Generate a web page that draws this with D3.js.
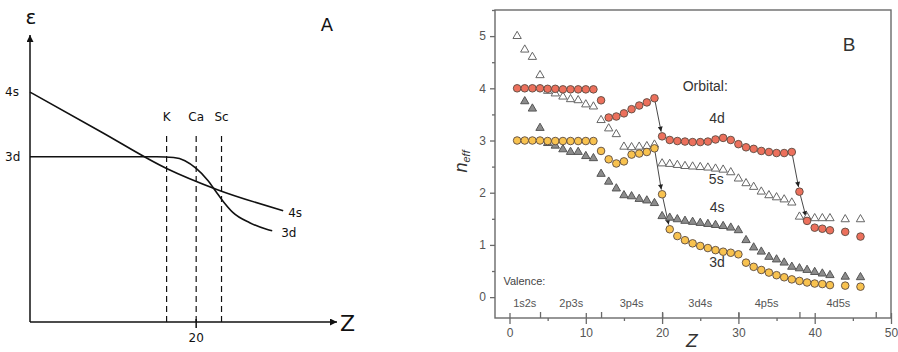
<!DOCTYPE html>
<html>
<head>
<meta charset="utf-8">
<script src="https://cdn.jsdelivr.net/npm/d3@7"></script>
<style>
  body { margin: 0; background: #fff; }
  svg { display: block; }
</style>
</head>
<body>
<div id="chart"></div>
<script>
// ---------- panel A (schematic) ----------
const aZ4s = [14.1, 16.6, 18.95, 20.73, 23.09];
const aE4s = [8.01, 6.64, 5.35, 4.62, 3.88];
const aZ3d = [14.1, 16.5, 18.6, 19.2, 19.6, 20.0, 20.4, 20.7, 20.96, 21.3, 21.9, 22.5, 22.7];
const aE3d = [5.76, 5.76, 5.76, 5.73, 5.62, 5.35, 4.95, 4.55, 4.2, 3.82, 3.46, 3.23, 3.18];
const aElements = ['K', 'Ca', 'Sc'];
const aElementZ = [18.95, 20, 20.9];

// ---------- panel B (n_eff) ----------
const zValues = [1, 2, 3, 4, 5, 6, 7, 8, 9, 10, 11, 12, 13, 14, 15, 16, 17, 18, 19, 20,
  21, 22, 23, 24, 25, 26, 27, 28, 29, 30, 31, 32, 33, 34, 35, 36, 37, 38, 39, 40, 41, 42, 44, 46];
const red4d = [4.00, 4.00, 4.00, 4.00, 3.99, 3.99, 3.98, 3.98, 3.98, 3.98, 3.98, 3.77,
  3.44, 3.46, 3.52, 3.60, 3.67, 3.73, 3.81,
  3.08, 3.01, 2.99, 2.98, 2.97, 2.97, 2.98, 3.02, 3.05, 3.01, 2.93, 2.87, 2.84, 2.80, 2.78, 2.76, 2.76, 2.78,
  2.02, 1.46, 1.33, 1.31, 1.28, 1.25, 1.16];
const yellow3d = [3.00, 3.00, 3.00, 3.00, 2.99, 2.99, 2.99, 2.99, 2.99, 2.99, 2.99, 2.80,
  2.64, 2.56, 2.60, 2.73, 2.75, 2.78, 2.85,
  1.97, 1.30, 1.17, 1.09, 1.03, 0.98, 0.94, 0.90, 0.87, 0.85, 0.82,
  0.66, 0.58, 0.52, 0.47, 0.42, 0.38, 0.34, 0.31, 0.28, 0.26, 0.25, 0.23, 0.22, 0.20];
const white5s = [5.00, 4.74, 4.60, 4.25, 3.95, 3.90, 3.84, 3.79, 3.77, 3.69, 3.65, 3.39,
  3.23, 3.12, 2.88, 2.87, 2.88, 2.89, 2.92,
  2.56, 2.55, 2.53, 2.51, 2.50, 2.49, 2.48, 2.46, 2.44, 2.39, 2.27,
  2.18, 2.11, 2.02, 1.95, 1.91, 1.87, 1.81, 1.54, 1.53, 1.51, 1.51, 1.51, 1.49, 1.49];
const gray4s = [null, 3.75, 3.61, 3.24, 2.95, 2.90, 2.83, 2.78, 2.78, 2.70, 2.66, 2.36,
  2.21, 2.08, 1.95, 1.93, 1.88, 1.85, 1.80,
  1.55, 1.52, 1.49, 1.46, 1.44, 1.42, 1.40, 1.38, 1.36, 1.33, 1.28,
  1.09, 0.95, 0.87, 0.77, 0.72, 0.66, 0.58, 0.55, 0.52, 0.48, 0.45, 0.42, 0.39, 0.38];

const yTicksB = [0, 1, 2, 3, 4, 5];
const xTicksB = [0, 10, 20, 30, 40, 50];
const xMinorB = [5, 15, 25, 35, 45];
const valenceBounds = [4, 12, 20, 30, 38, 48];
const valenceLabels = ['1s2s', '2p3s', '3p4s', '3d4s', '4p5s', '4d5s'];
const valenceZ = [2, 8.1, 16, 25, 33.7, 43.1];
const orbitalLabels = ['4d', '5s', '4s', '3d'];
const orbitalLabelPos = [[27.2, 3.33], [27.1, 2.16], [27.2, 1.64], [27.2, 0.58]];
// arrows: [series, fromZ, toZ]
const jumps = [['red', 19, 20], ['red', 37, 38], ['red', 38, 39], ['yellow', 19, 20], ['yellow', 20, 21]];

const W = 898, H = 352;
const svg = d3.select('#chart').append('svg').attr('width', W).attr('height', H);
const defs = svg.append('defs');

function arrowMarker(id, w, h, color) {
  defs.append('marker')
    .attr('id', id)
    .attr('viewBox', '0 0 10 10')
    .attr('refX', 10).attr('refY', 5)
    .attr('markerUnits', 'userSpaceOnUse')
    .attr('markerWidth', w).attr('markerHeight', h)
    .attr('orient', 'auto')
    .append('path')
    .attr('d', 'M0,0 L10,5 L0,10 Z')
    .attr('fill', color);
}
arrowMarker('axisArrow', 12, 7, '#111');
arrowMarker('jumpArrow', 6, 5, '#222');

// ================= Panel A =================
const xA = d3.scaleLinear().domain([14.1, 25]).range([30, 337]);
const yA = d3.scaleLinear().domain([0, 10]).range([322, 35]);
const gA = svg.append('g').attr('font-family', 'DejaVu Sans, sans-serif').attr('fill', '#111');

gA.append('line')
  .attr('x1', xA(14.1)).attr('y1', yA(0)).attr('x2', xA(14.1)).attr('y2', yA(10))
  .attr('stroke', '#111').attr('stroke-width', 1.5).attr('marker-end', 'url(#axisArrow)');
gA.append('line')
  .attr('x1', xA(14.1)).attr('y1', yA(0)).attr('x2', xA(25)).attr('y2', yA(0))
  .attr('stroke', '#111').attr('stroke-width', 1.5).attr('marker-end', 'url(#axisArrow)');

// tick at 20
gA.append('line')
  .attr('x1', xA(20)).attr('x2', xA(20)).attr('y1', yA(0) - 3).attr('y2', yA(0) + 6)
  .attr('stroke', '#111').attr('stroke-width', 1.5);
gA.append('text').attr('x', xA(20)).attr('y', yA(0) + 20)
  .attr('text-anchor', 'middle').attr('font-size', 12).text('20');

// dashed element lines
aElementZ.forEach((z, i) => {
  gA.append('line')
    .attr('x1', xA(z)).attr('x2', xA(z)).attr('y1', yA(0)).attr('y2', yA(6.62))
    .attr('stroke', '#111').attr('stroke-width', 1.2).attr('stroke-dasharray', '6,4');
  gA.append('text').attr('x', xA(z)).attr('y', yA(7.0))
    .attr('text-anchor', 'middle').attr('font-size', 12).text(aElements[i]);
});

const lineA = d3.line().curve(d3.curveMonotoneX).x((d) => xA(d[0])).y((d) => yA(d[1]));
const pts4s = aZ4s.map((z, i) => [z, aE4s[i]]);
const pts3d = aZ3d.map((z, i) => [z, aE3d[i]]);
gA.append('path').attr('d', lineA(pts4s))
  .attr('fill', 'none').attr('stroke', '#111').attr('stroke-width', 1.6);
gA.append('path').attr('d', lineA(pts3d))
  .attr('fill', 'none').attr('stroke', '#111').attr('stroke-width', 1.6);

gA.append('text').attr('x', 5).attr('y', yA(aE4s[0]) + 4).attr('font-size', 12).text('4s');
gA.append('text').attr('x', 5).attr('y', yA(aE3d[0]) + 4).attr('font-size', 12).text('3d');
gA.append('text').attr('x', xA(23.09) + 5).attr('y', yA(3.88) + 6).attr('font-size', 12).text('4s');
gA.append('text').attr('x', xA(22.7) + 9).attr('y', yA(3.18) + 6).attr('font-size', 12).text('3d');
gA.append('text').attr('x', 31).attr('y', 24).attr('text-anchor', 'middle').attr('font-size', 20).text('ε');
gA.append('text').attr('x', 327).attr('y', 31).attr('text-anchor', 'middle').attr('font-size', 18).text('A');
gA.append('text').attr('x', 340).attr('y', 331).attr('font-size', 22).text('Z');

// ================= Panel B =================
const x = d3.scaleLinear().domain([-1.9, 50]).range([495, 891]);
const y = d3.scaleLinear().domain([-0.4, 5.5]).range([318, 10]);
const gB = svg.append('g').attr('font-family', 'Liberation Sans, Arial, sans-serif');
const axisColor = '#6a6a6a';

function styleAxis(g) {
  g.select('.domain').remove();
  g.selectAll('line').attr('stroke', axisColor).attr('stroke-width', 1.3);
  g.selectAll('text').attr('fill', '#555').attr('font-size', 12);
}

gB.append('g').attr('transform', `translate(${x.range()[0]},0)`)
  .call(d3.axisLeft(y).tickValues(yTicksB).tickSize(5).tickPadding(4).tickFormat(d3.format('d')))
  .call(styleAxis);
gB.append('g').attr('transform', `translate(${x.range()[0]},0)`)
  .call(d3.axisLeft(y).tickValues(yTicksB.map((v) => v + 0.5)).tickSize(3).tickFormat(''))
  .call(styleAxis);

const yBase = y.range()[0];
gB.append('g').attr('transform', `translate(0,${yBase})`)
  .call(d3.axisBottom(x).tickValues(xTicksB).tickSize(6).tickPadding(4).tickFormat(d3.format('d')))
  .call(styleAxis);
gB.append('g').attr('transform', `translate(0,${yBase})`)
  .call(d3.axisTop(x).tickValues(xTicksB).tickSize(5).tickFormat(''))
  .call(styleAxis);
gB.append('g').attr('transform', `translate(0,${yBase})`)
  .call(d3.axisBottom(x).tickValues(xMinorB).tickSize(3).tickFormat(''))
  .call(styleAxis);
gB.append('g').attr('transform', `translate(0,${yBase})`)
  .call(d3.axisTop(x).tickValues(valenceBounds).tickSize(6).tickFormat(''))
  .call(styleAxis);

// frame
gB.append('rect')
  .attr('x', x.range()[0]).attr('y', y.range()[1])
  .attr('width', x.range()[1] - x.range()[0]).attr('height', y.range()[0] - y.range()[1])
  .attr('fill', 'none').attr('stroke', axisColor).attr('stroke-width', 1.4);

// valence labels
gB.append('text').attr('x', x(-0.8)).attr('y', y(0.24)).attr('font-size', 11).attr('fill', '#444').text('Valence:');
valenceLabels.forEach((t, i) => {
  gB.append('text').attr('x', x(valenceZ[i])).attr('y', y(-0.18))
    .attr('text-anchor', 'middle').attr('font-size', 11).attr('fill', '#555').text(t);
});

// jump arrows
const seriesMap = { red: red4d, yellow: yellow3d };
const rDot = 3.8;
jumps.forEach(([s, z0, z1]) => {
  const vals = seriesMap[s];
  const x0 = x(z0), y0 = y(vals[zValues.indexOf(z0)]);
  const x1 = x(z1), y1 = y(vals[zValues.indexOf(z1)]);
  const len = Math.hypot(x1 - x0, y1 - y0);
  const ux = (x1 - x0) / len, uy = (y1 - y0) / len;
  gB.append('line')
    .attr('x1', x0 + ux * rDot).attr('y1', y0 + uy * rDot)
    .attr('x2', x1 - ux * (rDot + 1)).attr('y2', y1 - uy * (rDot + 1))
    .attr('stroke', '#333').attr('stroke-width', 0.9).attr('marker-end', 'url(#jumpArrow)');
});

const tri = d3.symbol().type(d3.symbolTriangle).size(30);
function triangles(vals, fill, stroke) {
  gB.append('g').selectAll('path')
    .data(zValues.map((z, i) => [z, vals[i]]).filter((d) => d[1] != null))
    .enter().append('path')
    .attr('d', tri)
    .attr('transform', (d) => `translate(${x(d[0])},${y(d[1])})`)
    .attr('fill', fill).attr('stroke', stroke).attr('stroke-width', 1);
}
function circles(vals, fill) {
  gB.append('g').selectAll('circle')
    .data(zValues.map((z, i) => [z, vals[i]]))
    .enter().append('circle')
    .attr('cx', (d) => x(d[0])).attr('cy', (d) => y(d[1])).attr('r', rDot)
    .attr('fill', fill).attr('stroke', '#5a4a40').attr('stroke-width', 0.9);
}
triangles(white5s, '#fff', '#666');
triangles(gray4s, '#8c8c8c', '#555');
circles(red4d, '#ec705c');
circles(yellow3d, '#f8c24f');

// orbital labels
gB.append('text').attr('x', x(22.7)).attr('y', y(3.94)).attr('font-size', 14).attr('fill', '#333').text('Orbital:');
orbitalLabels.forEach((t, i) => {
  gB.append('text').attr('x', x(orbitalLabelPos[i][0])).attr('y', y(orbitalLabelPos[i][1]))
    .attr('text-anchor', 'middle').attr('font-size', 14).attr('fill', '#333').text(t);
});

gB.append('text').attr('x', 849).attr('y', 51).attr('text-anchor', 'middle')
  .attr('font-size', 19).attr('fill', '#333').text('B');

// axis titles
gB.append('text').attr('x', x(23.9)).attr('y', 347).attr('text-anchor', 'middle')
  .attr('font-size', 19).attr('font-style', 'italic').attr('fill', '#333').text('Z');
const yt = gB.append('text').attr('transform', `translate(467,${y(2.6)}) rotate(-90)`)
  .attr('text-anchor', 'middle').attr('fill', '#333').attr('font-style', 'italic');
yt.append('tspan').attr('font-size', 18).text('n');
yt.append('tspan').attr('font-size', 11).attr('dy', 3).text('eff');
</script>
</body>
</html>
